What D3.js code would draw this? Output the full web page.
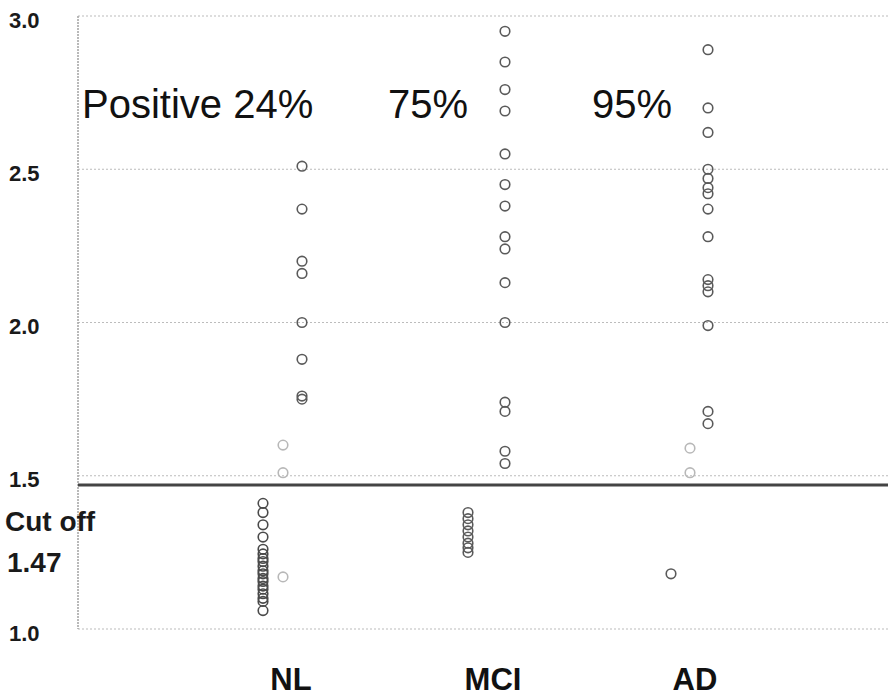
<!DOCTYPE html>
<html>
<head>
<meta charset="utf-8">
<script src="https://cdn.jsdelivr.net/npm/d3@7"></script>
<style>
  html, body { margin: 0; padding: 0; background: #fff; }
  svg { display: block; }
</style>
</head>
<body>
<svg id="chart" width="888" height="698"></svg>
<script>
// Groups along the x axis
const groups = ["NL", "MCI", "AD"];

// Y axis tick values
const yTicks = [1.0, 1.5, 2.0, 2.5, 3.0];

// Cut-off value separating positive from negative
const cutoff = 1.47;

// Share of positive cases in each group
const positiveLabels = ["Positive 24%", "75%", "95%"];

// Values above the cut-off (positive), per group
const nlPositive  = [2.51, 2.37, 2.20, 2.16, 2.00, 1.88, 1.76, 1.75];
const mciPositive = [2.95, 2.85, 2.76, 2.69, 2.55, 2.45, 2.38, 2.28, 2.24, 2.13, 2.00, 1.74, 1.71, 1.58, 1.54];
const adPositive  = [2.89, 2.70, 2.62, 2.50, 2.47, 2.44, 2.42, 2.37, 2.28, 2.14, 2.12, 2.10, 1.99, 1.71, 1.67];

// Values below the cut-off (negative), per group
const nlNegative  = [1.41, 1.38, 1.34, 1.30, 1.26, 1.245, 1.23, 1.22, 1.205, 1.19, 1.18, 1.165, 1.155, 1.14, 1.13, 1.115, 1.10, 1.09, 1.06];
const mciNegative = [1.38, 1.36, 1.34, 1.32, 1.30, 1.28, 1.265, 1.25];
const adNegative  = [1.18];

// Borderline readings drawn in light grey
const nlBorder = [1.60, 1.51, 1.17];
const adBorder = [1.59, 1.51];

const svg = d3.select("#chart");
const plot = { left: 78, right: 888, top: 16, bottom: 629 };

const y = d3.scaleLinear().domain([1, 3]).range([plot.bottom, plot.top]);
const x = d3.scalePoint().domain(groups).range([285, 689]);

const fontFamily = "'Liberation Sans', Arial, Helvetica, sans-serif";

// Dotted horizontal grid lines
svg.append("g")
  .selectAll("line")
  .data(yTicks)
  .join("line")
  .attr("x1", plot.left).attr("x2", plot.right)
  .attr("y1", d => y(d)).attr("y2", d => y(d))
  .attr("stroke", "#bcbcbc")
  .attr("stroke-width", 1.2)
  .attr("stroke-dasharray", "2,2");

// Left frame line
svg.append("line")
  .attr("x1", plot.left).attr("x2", plot.left)
  .attr("y1", plot.top).attr("y2", plot.bottom)
  .attr("stroke", "#a8a8a8")
  .attr("stroke-width", 1.6)
  .attr("stroke-dasharray", "2,1");

// Y axis tick labels
const yAxis = d3.axisLeft(y).tickValues(yTicks).tickFormat(d3.format(".1f")).tickSize(0).tickPadding(0);
const yg = svg.append("g").attr("transform", "translate(9,4)").call(yAxis);
yg.select(".domain").remove();
yg.selectAll("text")
  .attr("text-anchor", "start")
  .attr("font-family", fontFamily)
  .attr("font-weight", "bold")
  .attr("font-size", 22)
  .attr("fill", "#1a1a1a");

// Cut-off line
svg.append("line")
  .attr("x1", plot.left).attr("x2", plot.right)
  .attr("y1", y(cutoff)).attr("y2", y(cutoff))
  .attr("stroke", "#444")
  .attr("stroke-width", 3);

// Cut-off caption
const cutText = svg.append("text")
  .attr("font-family", fontFamily)
  .attr("font-weight", "bold")
  .attr("font-size", 28)
  .attr("fill", "#1a1a1a");
cutText.append("tspan").attr("x", 5).attr("y", y(cutoff) + 46).text("Cut off");
cutText.append("tspan").attr("x", 7).attr("y", y(cutoff) + 87).text(cutoff.toFixed(2));

// Positive percentage captions
const captionX = [82, 388, 592];
svg.append("g")
  .selectAll("text")
  .data(positiveLabels)
  .join("text")
  .attr("x", (d, i) => captionX[i])
  .attr("y", 118)
  .attr("font-family", fontFamily)
  .attr("font-size", 40)
  .attr("fill", "#111")
  .text(d => d);

// Points
const pointSets = [
  { group: "NL",  values: nlPositive,  dx: 17,  color: "#5a5a5a" },
  { group: "MCI", values: mciPositive, dx: 18,  color: "#5a5a5a" },
  { group: "AD",  values: adPositive,  dx: 19,  color: "#5a5a5a" },
  { group: "NL",  values: nlNegative,  dx: -22, color: "#4a4a4a" },
  { group: "MCI", values: mciNegative, dx: -19, color: "#5a5a5a" },
  { group: "AD",  values: adNegative,  dx: -18, color: "#5a5a5a" },
  { group: "NL",  values: nlBorder,    dx: -2,  color: "#b8b8b8" },
  { group: "AD",  values: adBorder,    dx: 1,   color: "#b8b8b8" }
];

const points = pointSets.flatMap(s => s.values.map(v => ({ group: s.group, value: v, dx: s.dx, color: s.color })));

svg.append("g")
  .selectAll("circle")
  .data(points)
  .join("circle")
  .attr("cx", d => x(d.group) + d.dx)
  .attr("cy", d => y(d.value))
  .attr("r", 4.8)
  .attr("fill", "none")
  .attr("stroke", d => d.color)
  .attr("stroke-width", 1.6);

// Group labels
svg.append("g")
  .selectAll("text")
  .data(groups)
  .join("text")
  .attr("x", d => x(d) + 6)
  .attr("y", 690)
  .attr("text-anchor", "middle")
  .attr("font-family", fontFamily)
  .attr("font-weight", "bold")
  .attr("font-size", 31)
  .attr("fill", "#111")
  .text(d => d);
</script>
</body>
</html>
